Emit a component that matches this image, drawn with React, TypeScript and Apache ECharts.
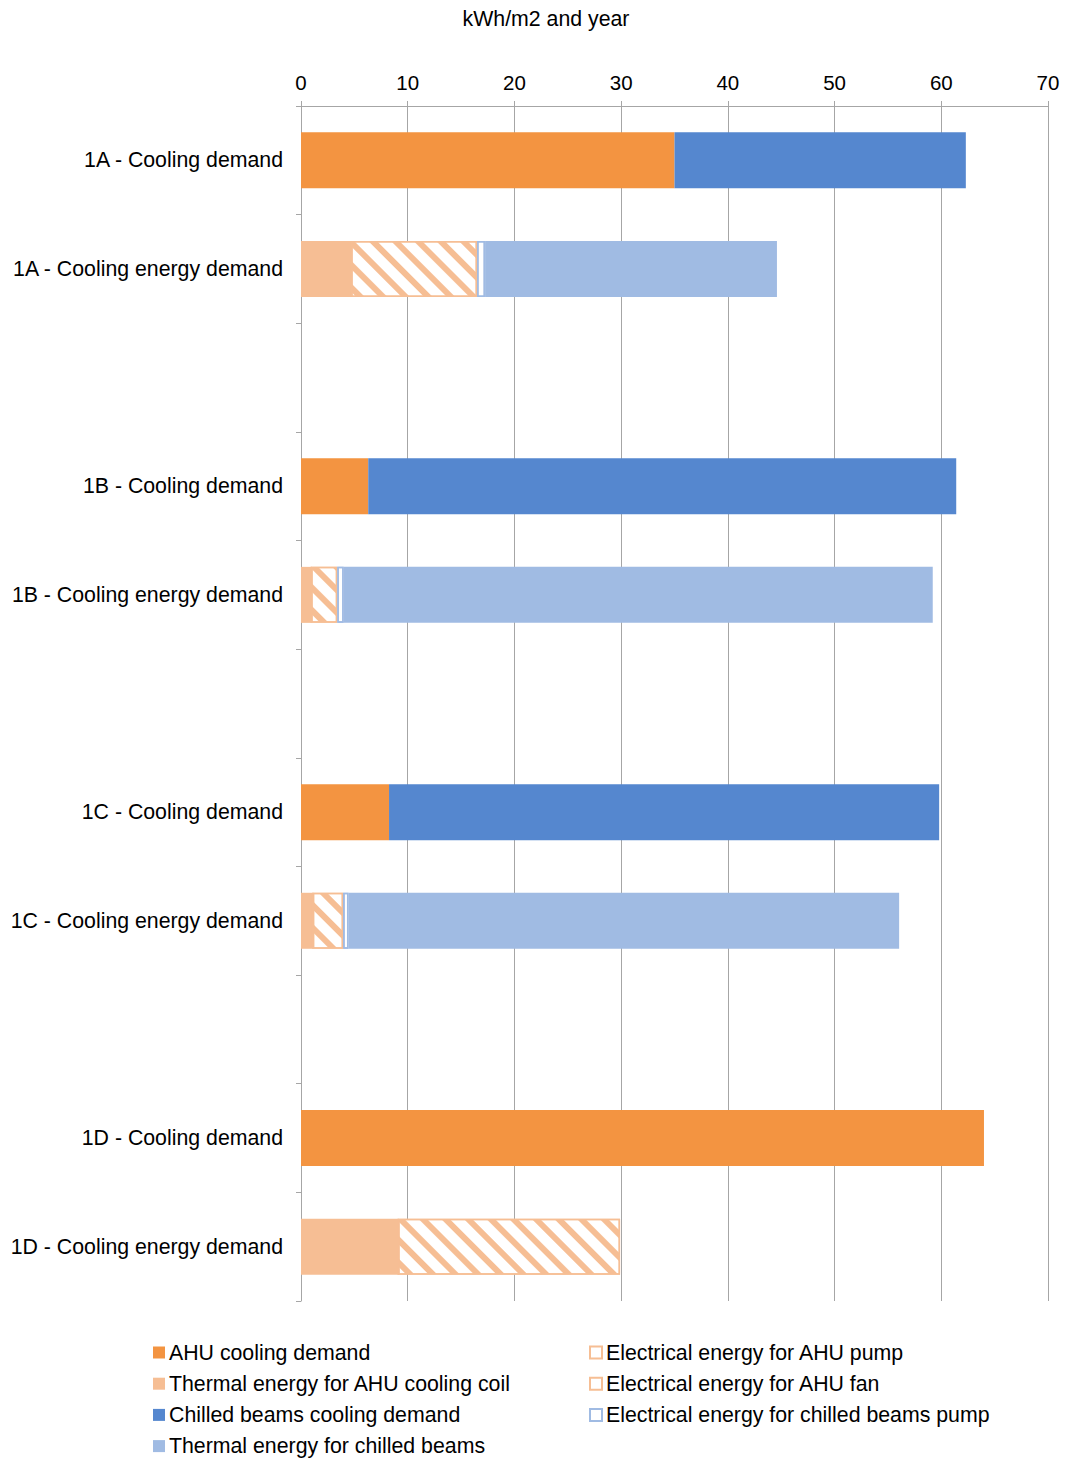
import React, { useEffect, useRef } from "react";
import * as echarts from "echarts";

const categories = [
  "1A - Cooling demand",
  "1A - Cooling energy demand",
  " ",
  "1B - Cooling demand",
  "1B - Cooling energy demand",
  "  ",
  "1C - Cooling demand",
  "1C - Cooling energy demand",
  "   ",
  "1D - Cooling demand",
  "1D - Cooling energy demand",
];

const ahuCoolingDemand = [35.0, null, null, 6.3, null, null, 8.25, null, null, 64.0, null];
const chilledBeamsCoolingDemand = [27.3, null, null, 55.1, null, null, 51.55, null, null, null, null];
const thermalAhuCoil = [null, 4.7, null, null, 0.95, null, null, 1.1, null, null, 9.1];
const elecAhuPump = [null, 0, null, null, 0, null, null, 0, null, null, 0];
const elecAhuFan = [null, 11.8, null, null, 2.45, null, null, 2.85, null, null, 20.8];
const elecChilledBeamsPump = [null, 0.75, null, null, 0.6, null, null, 0.5, null, null, null];
const thermalChilledBeams = [null, 27.35, null, null, 55.2, null, null, 51.6, null, null, null];

const xTicks = [0, 10, 20, 30, 40, 50, 60, 70];

const ORANGE = "#F39441";
const LIGHT_ORANGE = "#F6BE94";
const BLUE = "#5587CF";
const LIGHT_BLUE = "#A0BBE3";
const FONT = "Liberation Sans, Arial, sans-serif";
const FS = 21.3;

export default function App() {
  const ref = useRef<HTMLDivElement>(null);
  useEffect(() => {
    if (!ref.current) return;
    document.body.style.margin = "0";
    document.body.style.overflow = "hidden";
    const chart = echarts.init(ref.current, null, { renderer: "svg" });
    const legendText = { fontSize: FS, color: "#000", fontFamily: FONT, padding: [0, 0, 0, -1] };
    const elecIcon = (c: string) => ({ color: "#fff", borderColor: c, borderWidth: 2, decal: "none" });
    chart.setOption({
      animation: false,
      textStyle: { fontFamily: FONT },
      title: {
        text: "kWh/m2 and year",
        left: 541,
        top: 3,
        textAlign: "center",
        textStyle: { fontSize: FS, fontWeight: "normal", color: "#000", fontFamily: FONT },
      },
      grid: { left: 301, right: 17, top: 106, bottom: 158, containLabel: false },
      xAxis: {
        type: "value",
        position: "top",
        min: xTicks[0],
        max: xTicks[xTicks.length - 1],
        interval: 10,
        axisLine: { show: true, lineStyle: { color: "#A6A6A6", width: 1 } },
        axisTick: { show: true, length: 5, lineStyle: { color: "#A6A6A6" } },
        splitLine: { show: true, lineStyle: { color: "#A6A6A6", width: 1 } },
        axisLabel: { fontSize: 20.5, color: "#000", margin: 13, fontFamily: FONT },
      },
      yAxis: {
        type: "category",
        inverse: true,
        data: categories,
        axisLine: { show: true, lineStyle: { color: "#A6A6A6", width: 1 } },
        axisTick: { show: true, length: 5, lineStyle: { color: "#A6A6A6" } },
        axisLabel: { fontSize: FS, color: "#000", margin: 18, fontFamily: FONT },
      },
      legend: [
        {
          left: 153,
          top: 1342,
          orient: "vertical",
          itemWidth: 12,
          itemHeight: 12,
          itemGap: 10.2,
          padding: 0,
          icon: "rect",
          textStyle: legendText,
          data: [
            "AHU cooling demand",
            "Thermal energy for AHU cooling coil",
            "Chilled beams cooling demand",
            "Thermal energy for chilled beams",
          ],
        },
        {
          left: 589,
          top: 1342,
          orient: "vertical",
          itemWidth: 12,
          itemHeight: 12,
          itemGap: 10.2,
          padding: 0,
          icon: "rect",
          textStyle: legendText,
          data: [
            { name: "Electrical energy for AHU pump", itemStyle: elecIcon(LIGHT_ORANGE) },
            { name: "Electrical energy for AHU fan", itemStyle: elecIcon(LIGHT_ORANGE) },
            { name: "Electrical energy for chilled beams pump", itemStyle: elecIcon(LIGHT_BLUE) },
          ],
        },
      ],
      series: [
        {
          name: "AHU cooling demand",
          type: "bar",
          stack: "total",
          barWidth: 56,
          data: ahuCoolingDemand,
          itemStyle: { color: ORANGE },
        },
        {
          name: "Chilled beams cooling demand",
          type: "bar",
          stack: "total",
          barWidth: 56,
          data: chilledBeamsCoolingDemand,
          itemStyle: { color: BLUE },
        },
        {
          name: "Thermal energy for AHU cooling coil",
          type: "bar",
          stack: "total",
          barWidth: 56,
          data: thermalAhuCoil,
          itemStyle: { color: LIGHT_ORANGE },
        },
        {
          name: "Electrical energy for AHU pump",
          type: "bar",
          stack: "total",
          barWidth: 56,
          data: elecAhuPump,
          itemStyle: { color: "#fff", borderColor: LIGHT_ORANGE, borderWidth: 1.5 },
        },
        {
          name: "Electrical energy for AHU fan",
          type: "bar",
          stack: "total",
          barWidth: 56,
          data: elecAhuFan,
          itemStyle: {
            color: "#fff",
            borderColor: LIGHT_ORANGE,
            borderWidth: 1.5,
            decal: {
              symbol: "rect",
              symbolSize: 1,
              color: LIGHT_ORANGE,
              dashArrayX: [1, 0],
              dashArrayY: [5.5, 10],
              rotation: Math.PI / 4,
            },
          },
        },
        {
          name: "Electrical energy for chilled beams pump",
          type: "bar",
          stack: "total",
          barWidth: 56,
          data: elecChilledBeamsPump,
          itemStyle: {
            color: "#fff",
            borderColor: LIGHT_BLUE,
            borderWidth: 1.5,
            decal: {
              symbol: "rect",
              symbolSize: 1,
              color: LIGHT_BLUE,
              dashArrayX: [[2, 100]],
              dashArrayY: [2, 9],
            },
          },
        },
        {
          name: "Thermal energy for chilled beams",
          type: "bar",
          stack: "total",
          barWidth: 56,
          data: thermalChilledBeams,
          itemStyle: { color: LIGHT_BLUE },
        },
      ],
    });
    return () => chart.dispose();
  }, []);
  return (
    <div
      ref={ref}
      style={{ position: "absolute", left: 0, top: 0, width: 1065, height: 1459 }}
    />
  );
}
